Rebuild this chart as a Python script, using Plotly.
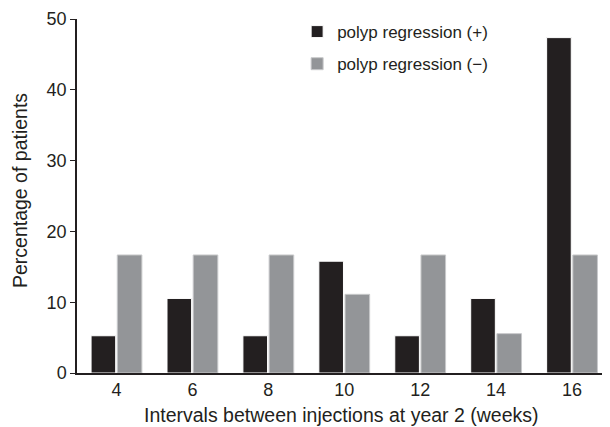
import plotly.graph_objects as go

categories = ["4", "6", "8", "10", "12", "14", "16"]
regression_pos = [5.26, 10.53, 5.26, 15.79, 5.26, 10.53, 47.37]
regression_neg = [16.67, 16.67, 16.67, 11.11, 16.67, 5.56, 16.67]
y_ticks = [0, 10, 20, 30, 40, 50]

fig = go.Figure()
fig.add_trace(go.Bar(x=categories, y=regression_pos, name="polyp regression (+)",
                     legendgroup="a",
                     marker=dict(color="#231f20", line=dict(color="white", width=1))))
fig.add_trace(go.Bar(x=categories, y=regression_neg, name="polyp regression (−)",
                     legendgroup="b",
                     marker=dict(color="#939598", line=dict(color="#c8c9cb", width=1))))

# page body has an 8px default margin, so the figure is drawn 8px smaller
fig.update_layout(
    width=602, height=419,
    margin=dict(l=69, r=0, t=11, b=54),
    paper_bgcolor="white", plot_bgcolor="white",
    barmode="group", bargap=0.31, bargroupgap=0.06,
    font=dict(family="Liberation Sans, Arial, sans-serif", color="#231f20"),
    showlegend=True,
    legend=dict(x=0.413, y=1.014, xanchor="left", yanchor="top",
                font=dict(size=17, color="#231f20"), bgcolor="rgba(0,0,0,0)",
                tracegroupgap=7),
    xaxis=dict(type="category", range=[-0.52, 6.5], showline=True, linecolor="#231f20",
               linewidth=1.5, ticks="", tickfont=dict(size=18), automargin=False),
    yaxis=dict(range=[0, 50], tickvals=y_ticks, showline=True, linecolor="#231f20",
               linewidth=1.5, ticks="outside", ticklen=5, tickcolor="#231f20",
               ticklabelstandoff=0,
               showgrid=False, zeroline=False, tickfont=dict(size=18), automargin=False),
    annotations=[
        dict(text="Intervals between injections at year 2 (weeks)", xref="paper", yref="paper",
             x=(341 - 77) / 533, y=-(415 - 373) / 354, xanchor="center", yanchor="middle",
             showarrow=False, font=dict(size=19.5, color="#231f20")),
        dict(text="Percentage of patients", xref="paper", yref="paper",
             x=-(77 - 20) / 533, y=0.514, xanchor="center", yanchor="middle", textangle=-90,
             showarrow=False, font=dict(size=19.5, color="#231f20")),
    ],
)

fig.write_html("out.html")
